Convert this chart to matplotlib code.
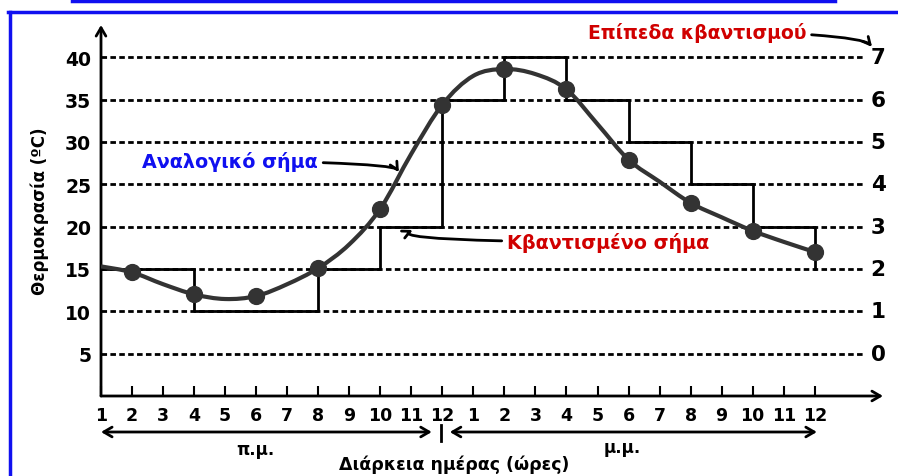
import matplotlib.pyplot as plt
from matplotlib.path import Path
from matplotlib.patches import PathPatch
from matplotlib.lines import Line2D

# hour labels along the x axis (index 0..23)
hour_labels = [str(h) for h in range(1, 13)] * 2
# analog temperature read at every hour
analog_temp = [15.3, 14.6, 13.2, 12.0, 11.45, 11.8, 13.2, 15.1, 17.9, 22.1,
               28.6, 34.4, 37.8, 38.6, 38.0, 36.2, 32.1, 27.9, 25.3, 22.8,
               21.1, 19.5, 18.2, 17.0]
# sampled points (odd hour indices)
sample_idx = [1, 3, 5, 7, 9, 11, 13, 15, 17, 19, 21, 23]
# quantized staircase
step_x = [0, 3, 5, 7, 9, 11, 13, 15, 17, 19, 21, 23]
step_y = [15, 10, 10, 15, 20, 35, 40, 35, 30, 25, 20, 15]
# grid levels and quantization level labels
temp_levels = [5, 10, 15, 20, 25, 30, 35, 40]
quant_levels = ['0', '1', '2', '3', '4', '5', '6', '7']

BLUE = '#1010f0'
RED = '#d00000'
DARK = '#333333'

fig = plt.figure(figsize=(8.98, 4.77), dpi=100)
ax = fig.add_axes([101 / 898, 80 / 477, 782 / 898, 371 / 477])
ax.set_xlim(0, 25.2)
ax.set_ylim(0, 43.8)
for s in ax.spines.values():
    s.set_visible(False)

# axes with arrow heads
ax.annotate('', xy=(0, 1), xytext=(0, 0), xycoords='axes fraction',
            arrowprops=dict(arrowstyle='->,head_length=0.6,head_width=0.35', lw=2, color='black',
                            shrinkA=0, shrinkB=0))
ax.annotate('', xy=(1, 0), xytext=(0, 0), xycoords='axes fraction',
            arrowprops=dict(arrowstyle='->,head_length=0.6,head_width=0.35', lw=2, color='black',
                            shrinkA=0, shrinkB=0))

# dashed level lines
ax.hlines(temp_levels, 0, 24.55, colors='black', linestyles=(0, (2, 1.2)), lw=2, zorder=1)

# quantized staircase
ax.step(step_x, step_y, where='post', color='black', lw=2, zorder=2)

# smooth analog curve (Catmull-Rom through hourly values)
n = len(analog_temp)
pts = [(float(i), analog_temp[i]) for i in range(n)]
verts = [pts[0]]
codes = [Path.MOVETO]
for i in range(n - 1):
    p0 = pts[i - 1] if i > 0 else pts[i]
    p1 = pts[i]
    p2 = pts[i + 1]
    p3 = pts[i + 2] if i + 2 < n else pts[i + 1]
    c1 = (p1[0] + (p2[0] - p0[0]) / 6, p1[1] + (p2[1] - p0[1]) / 6)
    c2 = (p2[0] - (p3[0] - p1[0]) / 6, p2[1] - (p3[1] - p1[1]) / 6)
    verts += [c1, c2, p2]
    codes += [Path.CURVE4] * 3
ax.add_patch(PathPatch(Path(verts, codes), fill=False, edgecolor=DARK, lw=3, zorder=3))
ax.scatter(sample_idx, [analog_temp[i] for i in sample_idx], s=130, color=DARK, zorder=4)

# ticks
ax.set_xticks(range(24))
ax.set_xticklabels(hour_labels, fontsize=12.5, fontweight='bold')
ax.tick_params(axis='x', direction='in', length=7, width=1.5, pad=7)
ax.set_yticks(temp_levels)
ax.set_yticklabels([str(t) for t in temp_levels], fontsize=13.5, fontweight='bold')
ax.tick_params(axis='y', length=0, pad=7)

for t, q in zip(temp_levels, quant_levels):
    ax.text(24.8, t, q, fontsize=15.5, fontweight='bold', va='center', ha='left')

# annotations
ax.annotate('Αναλογικό σήμα', xy=(9.6, 26.4), xytext=(4.15, 27.7),
            color=BLUE, fontsize=13.8, fontweight='bold', va='center', ha='center',
            arrowprops=dict(arrowstyle='->', lw=2, color='black', shrinkA=2, shrinkB=0,
                            connectionstyle='angle3,angleA=0,angleB=-60'))
ax.annotate('Κβαντισμένο σήμα', xy=(10.05, 19.6), xytext=(16.35, 18.2),
            color=RED, fontsize=13.8, fontweight='bold', va='center', ha='center',
            arrowprops=dict(arrowstyle='->', lw=2, color='black', shrinkA=2, shrinkB=0,
                            connectionstyle='angle3,angleA=0,angleB=25'))
ax.annotate('Επίπεδα κβαντισμού', xy=(24.85, 41.2), xytext=(19.2, 43.0),
            color=RED, fontsize=13.5, fontweight='bold', va='center', ha='center',
            annotation_clip=False,
            arrowprops=dict(arrowstyle='->', lw=2, color='black', shrinkA=2, shrinkB=0,
                            connectionstyle='angle3,angleA=0,angleB=-50'))

# morning / afternoon spans
for x0, x1 in [(0, 10.66), (11.24, 23.07)]:
    ax.annotate('', xy=(x1, -4.25), xytext=(x0, -4.25), annotation_clip=False,
                arrowprops=dict(arrowstyle='<->,head_length=0.6,head_width=0.35', lw=2,
                                color='black', shrinkA=0, shrinkB=0))
ax.plot([10.95, 10.95], [-3.4, -5.3], color='black', lw=2, clip_on=False)
ax.text(4.96, -6.2, 'π.μ.', fontsize=12, fontweight='bold', ha='center', va='center')
ax.text(16.8, -6.0, 'μ.μ.', fontsize=12, fontweight='bold', ha='center', va='center')

fig.text(454 / 898, 1 - 465 / 477, 'Διάρκεια ημέρας (ώρες)', fontsize=12.5,
         fontweight='bold', ha='center', va='center')
fig.text(40 / 898, 1 - 211 / 477, 'Θερμοκρασία (ºC)', fontsize=12, fontweight='bold',
         ha='center', va='center', rotation=90)

# blue frame
fig.add_artist(Line2D([72 / 898, 835 / 898], [1 - 1.5 / 477] * 2, color=BLUE, lw=2.5))
fig.add_artist(Line2D([8 / 898, 1.0], [1 - 13 / 477] * 2, color=BLUE, lw=2.5))
fig.add_artist(Line2D([9.5 / 898] * 2, [1 - 13 / 477, 0.0], color=BLUE, lw=2.5))

fig.savefig('out.png', dpi=100)
